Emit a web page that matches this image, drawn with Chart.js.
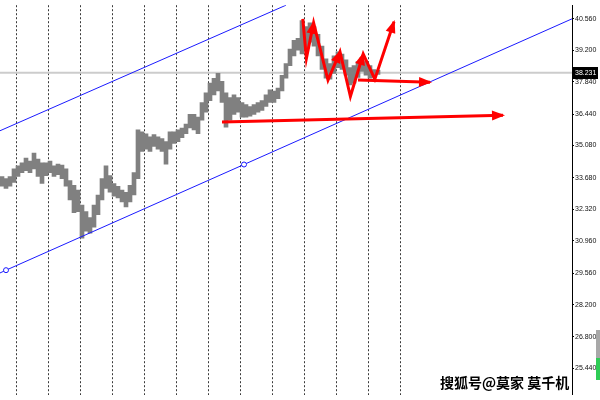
<!DOCTYPE html>
<html lang="zh">
<head>
<meta charset="UTF-8">
<title>价格通道</title>
<script src="https://cdn.jsdelivr.net/npm/chart.js"></script>
<style>
  html, body { margin: 0; padding: 0; background: #fff; }
  #wrap { width: 600px; height: 400px; }
</style>
</head>
<body>
<div id="wrap"><canvas id="chart" width="600" height="400"></canvas></div>
<script>
// bar highs / lows, one bar per index
const highs = [
  33.74, 33.65, 33.74, 34.07, 34.20, 34.33, 34.54, 34.41, 34.75, 34.50,
  34.33, 34.33, 34.41, 34.20, 34.28, 34.24, 34.07, 33.57, 33.36, 33.15,
  32.51, 32.22, 31.97, 32.51, 32.94, 33.65, 34.20, 33.78, 33.44, 33.32,
  33.15, 33.06, 33.36, 33.91, 35.76, 35.67, 35.59, 35.46, 35.55, 35.46,
  35.38, 35.25, 35.67, 35.67, 35.76, 35.84, 36.01, 36.43, 36.43, 36.31,
  36.94, 37.36, 37.78, 37.99, 38.20, 37.86, 37.36, 37.15, 37.27, 37.15,
  36.94, 36.85, 36.77, 36.85, 36.94, 37.02, 37.27, 37.49, 37.44, 37.57,
  38.12, 38.62, 39.25, 39.63, 39.72, 40.48, 40.22, 40.39, 40.22, 39.89,
  39.38, 38.83, 38.62, 38.96, 39.13, 39.04, 38.79, 38.45, 38.54, 38.71,
  38.88, 38.71, 38.54, 38.37, 38.33
];
const lows = [
  33.32, 33.23, 33.32, 33.48, 33.74, 33.91, 33.99, 33.91, 34.07, 33.74,
  33.44, 33.78, 33.91, 33.74, 33.82, 33.65, 33.32, 32.73, 32.18, 32.22,
  31.07, 31.38, 31.29, 31.55, 32.09, 32.73, 33.23, 33.06, 32.89, 32.81,
  32.64, 32.43, 32.64, 32.94, 33.65, 34.83, 34.92, 34.83, 35.04, 34.92,
  34.83, 34.28, 34.92, 35.17, 35.25, 35.42, 35.59, 35.84, 35.76, 35.59,
  36.18, 36.52, 37.02, 37.27, 37.44, 36.94, 35.88, 36.18, 36.43, 36.52,
  36.31, 36.31, 36.35, 36.43, 36.52, 36.60, 36.77, 36.94, 36.94, 37.11,
  37.44, 37.99, 38.54, 38.96, 39.21, 39.04, 39.25, 39.55, 39.38, 38.96,
  38.37, 37.99, 37.95, 38.20, 38.45, 38.37, 38.12, 37.70, 37.78, 38.03,
  38.29, 38.12, 37.99, 38.03, 38.16
];

const priceTicks = [40.56, 39.20, 37.84, 36.44, 35.08, 33.68, 32.32, 30.96, 29.56, 28.20, 26.80, 25.44];
const currentPrice = 38.231;
const separators = [4, 12, 20, 28, 36, 44, 52, 60, 68, 76, 84, 92, 100];

const upperChannel = [{ x: 0, y: 35.72 }, { x: 71.5, y: 41.15 }];
const lowerChannel = [{ x: 0, y: 29.57 }, { x: 1.5, y: 29.69 }, { x: 61, y: 34.26 }, { x: 143, y: 40.56 }];

const zigzag = [
  { x: 75.7, y: 40.56 }, { x: 76.6, y: 38.85 }, { x: 78.4, y: 40.39 },
  { x: 82.0, y: 37.91 }, { x: 85.0, y: 39.13 }, { x: 87.6, y: 37.20 },
  { x: 90.8, y: 39.04 }, { x: 93.7, y: 37.95 }, { x: 98.5, y: 40.43 }
];
const shortArrow = [{ x: 89.5, y: 37.91 }, { x: 107.5, y: 37.82 }];
const longArrow = [{ x: 55.5, y: 36.10 }, { x: 125.75, y: 36.39 }];

const RED = '#ff0000';
const BLUE = '#1a1aff';
const AXIS_FONT = '"Liberation Sans", Arial, sans-serif';

const arrowHeads = {
  id: 'arrowHeads',
  afterDatasetsDraw(chart) {
    const ctx = chart.ctx;
    chart.data.datasets.forEach((ds, di) => {
      if (!ds.arrowAt) return;
      const pts = chart.getDatasetMeta(di).data;
      ds.arrowAt.forEach(i => {
        const a = pts[i - 1], b = pts[i];
        const ang = Math.atan2(b.y - a.y, b.x - a.x);
        ctx.save();
        ctx.translate(b.x, b.y);
        ctx.rotate(ang);
        ctx.beginPath();
        ctx.moveTo(2, 0);
        ctx.lineTo(-11, -5);
        ctx.lineTo(-11, 5);
        ctx.closePath();
        ctx.fillStyle = ds.borderColor;
        ctx.fill();
        ctx.restore();
      });
    });
  }
};

const overlay = {
  id: 'overlay',
  afterDraw(chart) {
    const ctx = chart.ctx;
    const y = Math.round(chart.scales.y.getPixelForValue(currentPrice));
    ctx.save();
    // current price tag
    ctx.fillStyle = '#000';
    ctx.fillRect(573, y - 6, 25, 12);
    ctx.fillStyle = '#fff';
    ctx.font = '7px ' + AXIS_FONT;
    ctx.textBaseline = 'middle';
    ctx.fillText(currentPrice.toFixed(3), 575, y);
    // scroll thing at bottom right
    ctx.fillStyle = '#a8a8a8';
    ctx.fillRect(596, 330, 4, 30);
    ctx.fillStyle = '#2ecc55';
    ctx.fillRect(596, 358, 4, 22);
    // watermark
    ctx.font = 'bold 14px "Noto Sans CJK SC", sans-serif';
    ctx.textBaseline = 'alphabetic';
    ctx.lineWidth = 3;
    ctx.strokeStyle = '#fff';
    ctx.lineJoin = 'round';
    ctx.strokeText('搜狐号@莫家 莫千机', 440, 388);
    ctx.fillStyle = '#000';
    ctx.fillText('搜狐号@莫家 莫千机', 440, 388);
    ctx.restore();
  }
};

const lineStyle = { type: 'line', pointRadius: 0, tension: 0, fill: false };

new Chart(document.getElementById('chart'), {
  type: 'bar',
  data: {
    datasets: [
      { ...lineStyle, data: zigzag, borderColor: RED, borderWidth: 3, arrowAt: [2, 4, 6, 8], order: 0 },
      { ...lineStyle, data: shortArrow, borderColor: RED, borderWidth: 3, arrowAt: [1], order: 0 },
      { ...lineStyle, data: longArrow, borderColor: RED, borderWidth: 3, arrowAt: [1], order: 0 },
      { ...lineStyle, data: upperChannel, borderColor: BLUE, borderWidth: 1, order: 1 },
      {
        ...lineStyle, data: lowerChannel, borderColor: BLUE, borderWidth: 1, order: 1,
        pointRadius: [0, 2.5, 2.5, 0], pointBorderColor: BLUE, pointBackgroundColor: '#fff', pointBorderWidth: 1
      },
      {
        type: 'bar', order: 3,
        data: highs.map((h, i) => ({ x: i + 0.5, y: [lows[i], h] })),
        backgroundColor: '#808080', barThickness: 4, grouped: false
      },
      { ...lineStyle, data: [{ x: 0, y: currentPrice }, { x: 143, y: currentPrice }], borderColor: '#cccccc', borderWidth: 2, order: 5 }
    ]
  },
  options: {
    responsive: false,
    animation: false,
    layout: { padding: 0 },
    plugins: { legend: { display: false }, tooltip: { enabled: false } },
    scales: {
      x: {
        type: 'linear', min: 0, max: 143, offset: false,
        afterBuildTicks: s => { s.ticks = separators.map(v => ({ value: v })); },
        ticks: { display: false },
        grid: { drawTicks: false, color: '#3a3a3a', lineWidth: 1, offset: false },
        border: { display: false, dash: [2, 2] }
      },
      y: {
        position: 'right', min: 24.30, max: 41.15,
        afterBuildTicks: s => { s.ticks = priceTicks.map(v => ({ value: v })); },
        afterFit: s => { s.width = 28; },
        ticks: {
          autoSkip: false, padding: 1, color: '#111',
          font: { family: AXIS_FONT, size: 7 },
          callback: v => v.toFixed(3)
        },
        grid: { drawOnChartArea: false, tickLength: 2, color: '#000' },
        border: { display: true, color: '#000' }
      }
    }
  },
  plugins: [arrowHeads, overlay]
});
</script>
</body>
</html>
